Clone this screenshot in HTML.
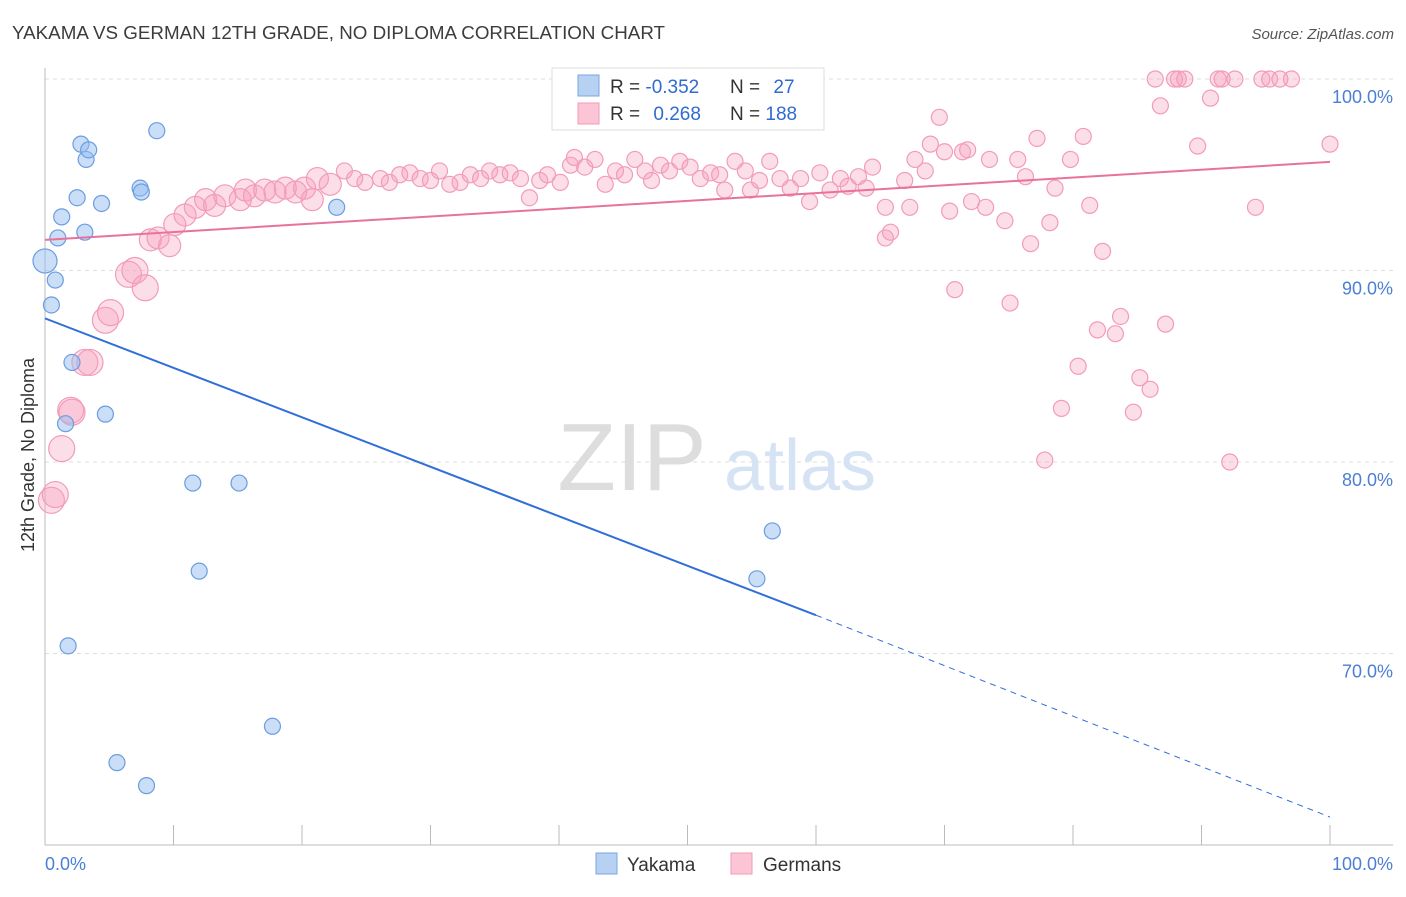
<!DOCTYPE html>
<html><head><meta charset="utf-8"><style>
body{margin:0;background:#fff;font-family:"Liberation Sans",sans-serif}
svg text{font-family:"Liberation Sans",sans-serif}
</style></head><body>
<svg id="c" width="1406" height="892">
<text x="12" y="39" font-size="18" fill="#3c3c3c" textLength="653" lengthAdjust="spacingAndGlyphs">YAKAMA VS GERMAN 12TH GRADE, NO DIPLOMA CORRELATION CHART</text>
<text x="1394" y="39" font-size="15" fill="#555" text-anchor="end" font-style="italic">Source: ZipAtlas.com</text>
<g id="grid"></g>
<text x="632" y="490" font-size="96" fill="#ddd" font-family="Liberation Serif" text-anchor="middle">ZIP</text>
<text x="800" y="490" font-size="72" fill="#d5e3f5" text-anchor="middle">atlas</text>
<g id="pts"></g>
<g id="lines"></g>
<text transform="translate(34,455) rotate(-90)" font-size="18" fill="#333" text-anchor="middle">12th Grade, No Diploma</text>
<g>
<rect x="552" y="68" width="272" height="62" fill="#fff" stroke="#ddd"/>
<rect x="578" y="75" width="21" height="21" fill="#b7d1f3" stroke="#7aa6e0"/>
<rect x="578" y="103" width="21" height="21" fill="#fcc5d6" stroke="#f19ab8"/>
<text x="610" y="93" font-size="19" fill="#333">R = <tspan fill="#2f6bd0">-0.352</tspan></text>
<text x="730" y="93" font-size="19" fill="#333">N = <tspan fill="#2f6bd0" dx="8">27</tspan></text>
<text x="610" y="120" font-size="19" fill="#333">R = <tspan fill="#2f6bd0" dx="8">0.268</tspan></text>
<text x="730" y="120" font-size="19" fill="#333">N = <tspan fill="#2f6bd0">188</tspan></text>
</g>
<g>
<rect x="596" y="853" width="21" height="21" fill="#b7d1f3" stroke="#7aa6e0"/>
<text x="627" y="871" font-size="19" fill="#333">Yakama</text>
<rect x="731" y="853" width="21" height="21" fill="#fcc5d6" stroke="#f19ab8"/>
<text x="763" y="871" font-size="19" fill="#333">Germans</text>
</g>
</svg>
<script>
const yTicks=[100,90,80,70];
const xTickLabels=["0.0%","100.0%"];
const blueX=[0,0.5,0.8,1.0,1.3,1.6,1.8,2.1,2.5,2.8,3.1,3.2,3.4,4.4,4.7,5.6,7.4,7.5,7.9,8.7,11.5,12.0,15.1,17.7,22.7,55.4,56.6];
const blueY=[90.5,88.2,89.5,91.7,92.8,82.0,70.4,85.2,93.8,96.6,92.0,95.8,96.3,93.5,82.5,64.3,94.3,94.1,63.1,97.3,78.9,74.3,78.9,66.2,93.3,73.9,76.4];
const pinkX=[0.5,0.8,1.3,2.0,2.1,3.1,3.5,4.7,5.1,6.5,7.0,7.8,8.2,8.8,9.7,10.1,10.9,11.7,12.5,13.2,14.0,15.2,15.6,16.3,17.1,17.9,18.7,19.5,20.2,20.8,21.2,22.2,23.3,24.1,24.9,26.1,26.8,27.6,28.4,29.2,30.0,30.7,31.5,32.3,33.1,33.9,34.6,35.4,36.2,37.0,37.7,38.5,39.1,40.1,40.9,41.2,42.0,42.8,43.6,44.4,45.1,45.9,46.7,47.2,47.9,48.6,49.4,50.2,51.0,51.8,52.5,52.9,53.7,54.5,54.9,55.6,56.4,57.2,58.0,58.8,59.5,60.3,61.1,61.9,62.5,63.3,63.9,64.4,65.4,65.4,65.8,66.9,67.3,67.7,68.5,68.9,69.6,70.0,70.4,70.8,71.4,71.8,72.1,73.2,73.5,74.7,75.1,75.7,76.3,76.7,77.2,77.8,78.2,78.6,79.8,80.4,80.8,81.3,79.1,81.9,82.3,83.3,83.7,84.7,85.2,86.0,86.4,86.8,87.2,87.9,88.2,88.7,89.7,90.7,91.3,91.6,92.2,92.6,94.2,94.7,95.3,96.1,97.0,100];
const pinkY=[78.0,78.3,80.7,82.7,82.6,85.2,85.2,87.4,87.8,89.8,90.0,89.1,91.6,91.7,91.3,92.4,92.9,93.3,93.7,93.4,93.9,93.7,94.2,93.9,94.2,94.1,94.3,94.1,94.3,93.7,94.8,94.5,95.2,94.8,94.6,94.8,94.6,95.0,95.1,94.8,94.7,95.2,94.5,94.6,95.0,94.8,95.2,95.0,95.1,94.8,93.8,94.7,95.0,94.6,95.5,95.9,95.4,95.8,94.5,95.2,95.0,95.8,95.2,94.7,95.5,95.2,95.7,95.4,94.8,95.1,95.0,94.2,95.7,95.2,94.2,94.7,95.7,94.8,94.3,94.8,93.6,95.1,94.2,94.8,94.4,94.9,94.3,95.4,93.3,91.7,92.0,94.7,93.3,95.8,95.2,96.6,98.0,96.2,93.1,89.0,96.2,96.3,93.6,93.3,95.8,92.6,88.3,95.8,94.9,91.4,96.9,80.1,92.5,94.3,95.8,85.0,97.0,93.4,82.8,86.9,91.0,86.7,87.6,82.6,84.4,83.8,100,98.6,87.2,100,100,100,96.5,99.0,100,100,80.0,100,93.3,100,100,100,100,96.6];
const blueLine=[[0,87.5],[60,72.0],[100,61.46]];
const pinkLine=[[0,91.6],[100,95.67]];
const X=v=>45+v*12.85, Y=v=>79+(100-v)*19.15;
const NS="http://www.w3.org/2000/svg";
function mk(p,t,a){const e=document.createElementNS(NS,t);for(const k in a)e.setAttribute(k,a[k]);p.appendChild(e);return e;}
const g=document.getElementById('grid');
yTicks.forEach(t=>{
 const l=mk(g,'line',{x1:45,x2:1393,y1:Y(t),y2:Y(t),stroke:'#ddd','stroke-dasharray':'4,4'});
 
 
 const tx=mk(g,'text',{x:1393,y:Y(t)+24,'font-size':18,fill:'#4a7fd4','text-anchor':'end'});
 tx.textContent=t.toFixed(1)+'%';
 
 
});
const ax=mk(g,'line',{x1:45,x2:1393,y1:845,y2:845,stroke:'#bbb'});


const ay=mk(g,'line',{x1:45,x2:45,y1:68,y2:845,stroke:'#bbb'});


for(let i=0;i<=10;i++){const tk=mk(g,'line',{x1:X(i*10),x2:X(i*10),y1:825,y2:845,stroke:'#bbb'});
 
 }
xTickLabels.forEach((s,i)=>{const tx=mk(g,'text',{x:i?1393:45,y:870,'font-size':18,fill:'#4a7fd4','text-anchor':i?'end':'start'});tx.textContent=s;
 
 });
const pg=document.getElementById('pts');
pinkX.forEach((x,i)=>{const r=i<12?13:(i<32?11:8);
 const c=mk(pg,'circle',{cx:X(x),cy:Y(pinkY[i]),r:r,fill:'rgba(246,160,190,0.35)',stroke:'#f29bba','stroke-width':1.2});
 
 });
blueX.forEach((x,i)=>{const r=i==0?12:8;
 const c=mk(pg,'circle',{cx:X(x),cy:Y(blueY[i]),r:r,fill:'rgba(150,190,240,0.5)',stroke:'#6b9de0','stroke-width':1.2});
 
 });
const lg=document.getElementById('lines');
const b1=mk(lg,'line',{x1:X(blueLine[0][0]),y1:Y(blueLine[0][1]),x2:X(blueLine[1][0]),y2:Y(blueLine[1][1]),stroke:'#2e6fd8','stroke-width':2});


const b2=mk(lg,'line',{x1:X(blueLine[1][0]),y1:Y(blueLine[1][1]),x2:X(blueLine[2][0]),y2:Y(blueLine[2][1]),stroke:'#2e6fd8','stroke-width':1,'stroke-dasharray':'6,5'});


const p1=mk(lg,'line',{x1:X(pinkLine[0][0]),y1:Y(pinkLine[0][1]),x2:X(pinkLine[1][0]),y2:Y(pinkLine[1][1]),stroke:'#e8729c','stroke-width':2});


</script>
</body></html>
